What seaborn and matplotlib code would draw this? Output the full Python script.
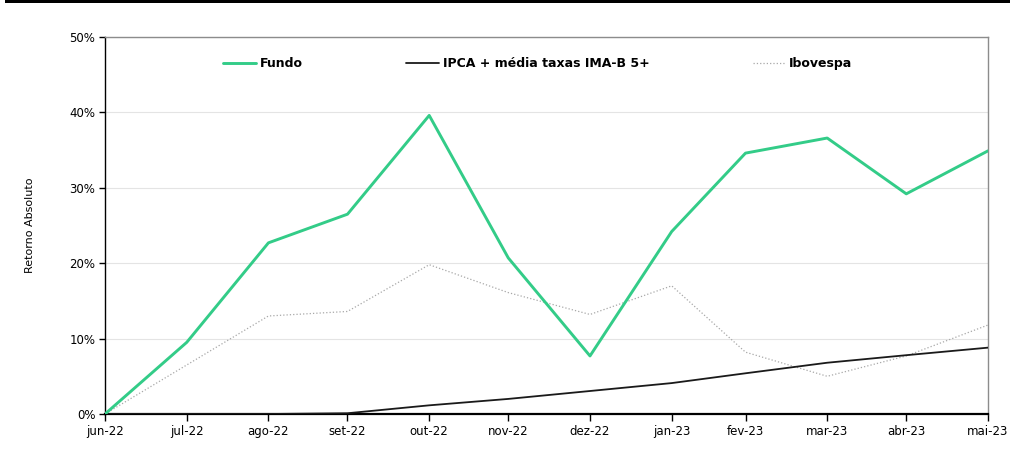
import matplotlib
matplotlib.use("Agg")
import matplotlib.pyplot as plt
import matplotlib.patches as mpatches
from matplotlib.ticker import PercentFormatter
import seaborn as sns
import pandas as pd

dates = ["2022-06-30", "2022-07-31", "2022-08-31", "2022-09-30", "2022-10-31", "2022-11-30",
         "2022-12-31", "2023-01-31", "2023-02-28", "2023-03-31", "2023-04-30", "2023-05-31"]
tick_labels = ["jun-22", "jul-22", "ago-22", "set-22", "out-22", "nov-22",
               "dez-22", "jan-23", "fev-23", "mar-23", "abr-23", "mai-23"]
fundo = [0.0, 9.5, 22.7, 26.5, 39.6, 20.7, 7.7, 24.2, 34.6, 36.6, 29.2, 34.9]
ipca = [0.0, 0.0, 0.0, 0.1, 1.15, 2.0, 3.05, 4.1, 5.4, 6.8, 7.8, 8.8]
ibovespa = [0.0, 6.5, 13.0, 13.6, 19.8, 16.1, 13.2, 17.0, 8.2, 5.0, 7.7, 11.8]

sns.set_style("white")
plt.rcParams['font.family'] = ['DejaVu Sans']
plt.rcParams['text.color'] = 'black'
plt.rcParams['axes.labelcolor'] = 'black'

x = pd.to_datetime(dates)
df = pd.DataFrame({"data": x, "Fundo": fundo, "IPCA": ipca, "Ibov": ibovespa})

fig = plt.figure(figsize=(10.1, 4.5), dpi=100)
ax = fig.add_axes([105/1010, 1-414/450, (988-105)/1010, (414-37)/450])

sns.lineplot(data=df, x="data", y="Fundo", ax=ax, color="#33CC88", linewidth=2.1,
             label="Fundo", zorder=4)
sns.lineplot(data=df, x="data", y="IPCA", ax=ax, color="#1a1a1a", linewidth=1.3,
             label="IPCA + média taxas IMA-B 5+", zorder=3)
sns.lineplot(data=df, x="data", y="Ibov", ax=ax, color="#a8a8a8", linewidth=0.9,
             linestyle=":", label="Ibovespa", zorder=2)

ax.set_xlim(x[0], x[-1])
ax.set_ylim(0, 50)
ax.set_yticks([0, 10, 20, 30, 40, 50])
ax.yaxis.set_major_formatter(PercentFormatter(decimals=0))
ax.set_xticks(x)
ax.set_xticklabels(tick_labels)
ax.tick_params(axis="both", bottom=True, left=True, labelsize=8.5, colors="#000000",
               direction="out", length=4, width=1)
ax.tick_params(axis="x", pad=3, length=5)
ax.tick_params(axis="y", pad=3)
ax.set_xlabel("")
ax.set_ylabel("Retorno Absoluto", fontsize=8, labelpad=25, color="black")

ax.grid(axis="y", color="#e4e4e4", linewidth=0.8)
ax.set_axisbelow(True)
for s in ["top", "right"]:
    ax.spines[s].set_color("#8c8c8c")
    ax.spines[s].set_linewidth(1)
ax.spines["left"].set_color("#000000")
ax.spines["left"].set_linewidth(1)
ax.spines["bottom"].set_color("#000000")
ax.spines["bottom"].set_linewidth(1.6)

leg = ax.legend(loc="center", bbox_to_anchor=(538/1010, 1-63.5/450), bbox_transform=fig.transFigure,
                ncol=3, frameon=False, handlelength=2.6, handletextpad=0.3, columnspacing=8.3,
                prop={"weight": "bold", "size": 9})
for t in leg.get_texts():
    t.set_color("black")

fig.add_artist(mpatches.Rectangle((5/1010, 1-2.5/450), 1-5/1010, 2.5/450,
                                  transform=fig.transFigure, color="black", lw=0))

fig.savefig("out.png", dpi=100)
